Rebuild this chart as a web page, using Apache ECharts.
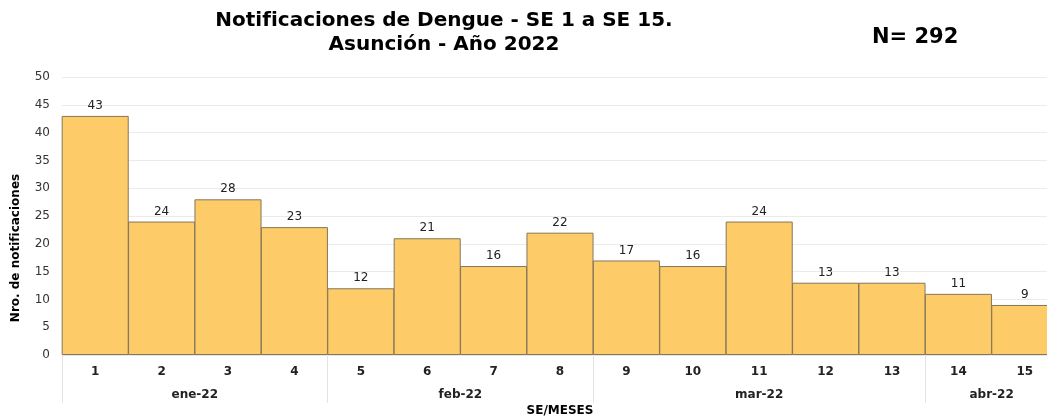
<!DOCTYPE html>
<html lang="es">
<head>
    <meta charset="UTF-8">
    <title>Notificaciones de Dengue</title>
    <script src="https://cdn.jsdelivr.net/npm/echarts@6/dist/echarts.min.js"></script>
    <style>
        html, body { margin: 0; padding: 0; background: #fff; }
        #chart { width: 1047px; height: 419px; }
    </style>
</head>
<body>
<div id="chart"></div>
<script>
    // semanas epidemiologicas y notificaciones
    var semanas = ['1','2','3','4','5','6','7','8','9','10','11','12','13','14','15'];
    var notificaciones = [43, 24, 28, 23, 12, 21, 16, 22, 17, 16, 24, 13, 13, 11, 9];
    // meses y cuantas semanas cubre cada uno
    var meses = ['ene-22', 'feb-22', 'mar-22', 'abr-22'];
    var semanasPorMes = [4, 4, 5, 2];
    var yTicks = [0, 5, 10, 15, 20, 25, 30, 35, 40, 45, 50];

    // posiciones de etiquetas de mes y separadores
    var centros = [], cortes = [0], acc = 0;
    semanasPorMes.forEach(function (n) {
        centros.push(acc + n / 2);
        acc += n;
        cortes.push(acc);
    });

    var fuente = 'DejaVu Sans, Verdana, sans-serif';
    var myChart = echarts.init(document.getElementById('chart'));
    var option = {
        animation: false,
        textStyle: { fontFamily: fuente },
        title: [
            {
                text: 'Notificaciones de Dengue - SE 1 a SE 15.\nAsunción - Año 2022',
                left: 439, top: 4, textAlign: 'center',
                textStyle: { fontSize: 20, fontWeight: 'bold', color: '#000', lineHeight: 24, fontFamily: fuente }
            },
            {
                text: 'N= 292',
                left: 867, top: 22,
                textStyle: { fontSize: 21, fontWeight: 'bold', color: '#000', fontFamily: fuente }
            }
        ],
        // la ultima barra queda cortada por el borde derecho, como en el original
        grid: { left: 62, right: -11, top: 77, bottom: 64, outerBoundsMode: 'none', containLabel: false },
        graphic: [
            {
                type: 'text', x: 16, y: 248, rotation: Math.PI / 2,
                style: {
                    text: 'Nro. de notificaciones', fontSize: 12, fontWeight: 'bold', fill: '#000',
                    fontFamily: fuente, align: 'center', verticalAlign: 'middle'
                }
            },
            {
                type: 'text', x: 560, y: 411,
                style: {
                    text: 'SE/MESES', fontSize: 12, fontWeight: 'bold', fill: '#000',
                    fontFamily: fuente, align: 'center', verticalAlign: 'middle'
                }
            }
        ],
        xAxis: [
            {
                type: 'category',
                data: semanas,
                axisLine: { show: true, lineStyle: { color: '#e6e6e6' } },
                axisTick: { show: false },
                axisLabel: { margin: 11, fontSize: 12, fontWeight: 'bold', color: '#222' }
            },
            {
                type: 'value',
                min: 0, max: semanas.length,
                position: 'bottom',
                axisLine: { show: false },
                splitLine: { show: false },
                axisTick: {
                    show: true, length: 48,
                    customValues: cortes,
                    lineStyle: { color: '#e3e3e3' }
                },
                axisLabel: {
                    margin: 34, fontSize: 12, fontWeight: 'bold', color: '#222',
                    customValues: centros,
                    formatter: function (v) {
                        var i = centros.indexOf(v);
                        return i >= 0 ? meses[i] : '';
                    }
                }
            }
        ],
        yAxis: {
            type: 'value',
            min: yTicks[0], max: yTicks[yTicks.length - 1], interval: 5,
            axisLine: { show: false },
            axisTick: { show: false },
            splitLine: { lineStyle: { color: '#ebebeb' } },
            axisLabel: { fontSize: 12, color: '#333', margin: 12 }
        },
        series: [
            {
                type: 'bar',
                xAxisIndex: 0,
                data: notificaciones,
                barWidth: '101%',
                itemStyle: { color: '#fecb69', borderColor: '#857657', borderWidth: 1 },
                label: { show: true, position: 'top', distance: 4, fontSize: 12, color: '#222' }
            }
        ]
    };
    myChart.setOption(option);
</script>
</body>
</html>
